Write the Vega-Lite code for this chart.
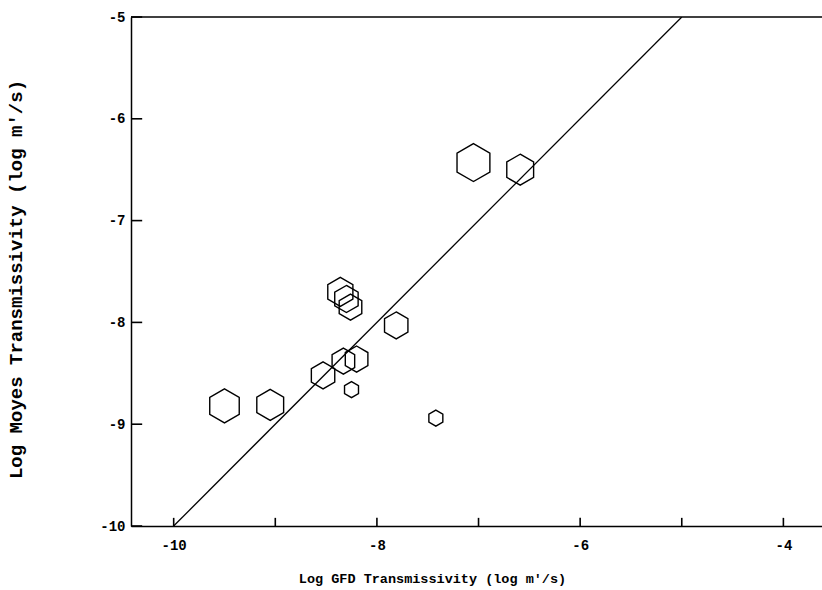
{
  "$schema": "https://vega.github.io/schema/vega-lite/v6.json",
  "autosize": {"type": "none"},
  "width": 691,
  "height": 509,
  "padding": {"left": 131, "top": 17, "right": 0, "bottom": 64},
  "background": "white",
  "config": {
    "view": {"stroke": null},
    "axis": {
      "domainColor": "black",
      "domainWidth": 1.5,
      "grid": false,
      "labelFont": "Liberation Mono",
      "labelFontWeight": "bold",
      "labelFontSize": 14,
      "labelColor": "black",
      "titleFont": "Liberation Mono",
      "titleFontWeight": "bold",
      "titleColor": "black"
    }
  },
  "resolve": {"axis": {"x": "independent", "y": "independent"}},
  "layer": [
    {
      "data": {"values": [{"gfd": -10, "moyes": -10}, {"gfd": -5, "moyes": -5}]},
      "mark": {"type": "line", "color": "black", "strokeWidth": 1.3, "clip": true},
      "encoding": {
        "x": {"field": "gfd", "type": "quantitative", "scale": {"domain": [-10.42, -3.62], "nice": false, "zero": false},
          "axis": {
            "orient": "bottom",
            "values": [-10, -8, -6, -4],
            "labelExpr": "'-' + abs(datum.value)",
            "ticks": false,
            "labelPadding": 12,
            "title": "Log  GFD  Transmissivity  (log  m'/s)",
            "titleFontSize": 13.5,
            "titleX": 301,
            "titleY": 52,
            "titleAnchor": null,
            "titleAlign": "center",
            "titleBaseline": "middle"
          }
        },
        "y": {"field": "moyes", "type": "quantitative", "scale": {"domain": [-10, -5], "nice": false, "zero": false},
          "axis": {
            "orient": "left",
            "values": [-10, -9, -8, -7, -6, -5],
            "labelExpr": "'-' + abs(datum.value)",
            "ticks": false,
            "labelPadding": 6,
            "title": "Log  Moyes  Transmissivity  (log  m'/s)",
            "titleFontSize": 19,
            "titleX": -116,
            "titleY": 262,
            "titleAngle": -90,
            "titleAlign": "center",
            "titleBaseline": "middle"
          }
        }
      }
    },
    {
      "data": {"values": [
        {"gfd": -9.50, "moyes": -8.82, "value": 11.6},
        {"gfd": -9.05, "moyes": -8.81, "value": 9.6},
        {"gfd": -8.53, "moyes": -8.52, "value": 7.3},
        {"gfd": -8.33, "moyes": -8.38, "value": 6.8},
        {"gfd": -8.20, "moyes": -8.36, "value": 6.8},
        {"gfd": -8.25, "moyes": -8.66, "value": 2.6},
        {"gfd": -7.81, "moyes": -8.03, "value": 7.3},
        {"gfd": -8.36, "moyes": -7.70, "value": 8.4},
        {"gfd": -8.30, "moyes": -7.77, "value": 7.3},
        {"gfd": -8.26, "moyes": -7.85, "value": 6.8},
        {"gfd": -7.05, "moyes": -6.43, "value": 14.4},
        {"gfd": -6.59, "moyes": -6.50, "value": 9.6},
        {"gfd": -7.42, "moyes": -8.94, "value": 2.6}
      ]},
      "mark": {"type": "point", "shape": "M0,-1L0.866,-0.5L0.866,0.5L0,1L-0.866,0.5L-0.866,-0.5Z", "filled": false, "stroke": "black", "strokeWidth": 1.4, "opacity": 1},
      "encoding": {
        "x": {"field": "gfd", "type": "quantitative", "axis": null},
        "y": {"field": "moyes", "type": "quantitative", "axis": null},
        "size": {"field": "value", "type": "quantitative", "scale": {"type": "linear", "domain": [0, 15], "range": [0, 1500]}, "legend": null}
      }
    },
    {
      "data": {"values": [{}]},
      "mark": {"type": "rule", "color": "black", "strokeWidth": 1.5},
      "encoding": {"y": {"datum": -5, "type": "quantitative", "axis": null}}
    },
    {
      "data": {"values": [{"tick": -10}, {"tick": -9}, {"tick": -8}, {"tick": -7}, {"tick": -6}, {"tick": -5}, {"tick": -4}]},
      "mark": {"type": "rule", "color": "black", "strokeWidth": 1.6},
      "encoding": {
        "x": {"field": "tick", "type": "quantitative", "axis": null},
        "y": {"datum": -10, "type": "quantitative", "axis": null},
        "y2": {"datum": -9.92}
      }
    },
    {
      "data": {"values": [{"tick": -10}, {"tick": -9}, {"tick": -8}, {"tick": -7}, {"tick": -6}, {"tick": -5}]},
      "mark": {"type": "rule", "color": "black", "strokeWidth": 1.6},
      "encoding": {
        "y": {"field": "tick", "type": "quantitative", "axis": null},
        "x": {"datum": -10.42, "type": "quantitative", "axis": null},
        "x2": {"datum": -10.31}
      }
    }
  ]
}
